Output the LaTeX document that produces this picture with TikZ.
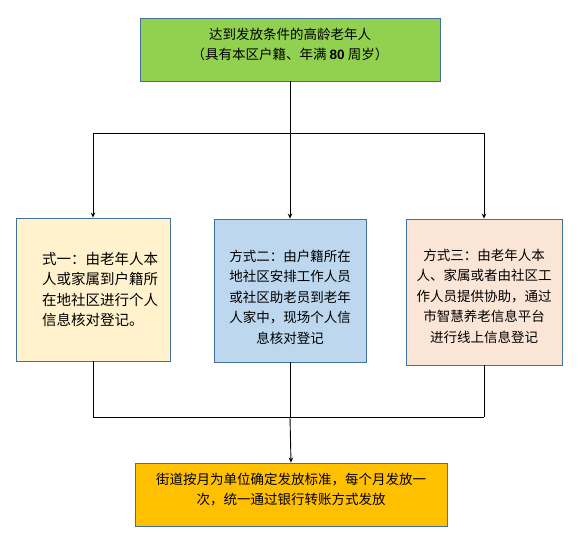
\documentclass[tikz,border=0pt]{standalone}
\usepackage{fontspec}
\setmainfont{Liberation Serif}
\newfontfamily\cjk{Noto Sans CJK SC}
\usetikzlibrary{arrows.meta}

\definecolor{boxblue}{HTML}{41719C}
\definecolor{topgreen}{HTML}{92D050}
\definecolor{waycream}{HTML}{FFF2CC}
\definecolor{wayblue}{HTML}{BDD7EE}
\definecolor{waypeach}{HTML}{FBE5D6}
\definecolor{payamber}{HTML}{FFC000}

\begin{document}
\begin{tikzpicture}[x=1pt, y=-1pt,
    font=\cjk\fontsize{13.5}{20.5}\selectfont,
    flowbox/.style={draw=boxblue, line width=0.9pt, inner sep=0pt, align=center},
    flowline/.style={line width=0.9pt},
    flowarrow/.style={line width=0.9pt, -{Stealth[length=5pt, width=4.5pt]}}]
    \useasboundingbox (0,0) rectangle (581,546);

    % Condition
    \node[flowbox, fill=topgreen, minimum width=300pt, minimum height=63pt,
          text depth=11pt] (cond) at (290,49.5)
        {达到发放条件的高龄老年人\\（具有本区户籍、年满 \textbf{\fontspec{Liberation Sans}80} 周岁）};

    % Three ways
    \node[flowbox, fill=waycream, minimum width=154pt, minimum height=143pt,
          align=left, font=\cjk\fontsize{14.5}{20.5}\selectfont] (way1) at (93,289.5)
        {\hspace*{14pt}式一：由老年人本\\\hspace*{14pt}人或家属到户籍所\\\hspace*{14pt}在地社区进行个人\\\hspace*{14pt}信息核对登记。};
    \node[flowbox, fill=wayblue, minimum width=152pt, minimum height=143pt,
          text height=107pt, text depth=2pt] (way2) at (290,290.5)
        {方式二：由户籍所在\\地社区安排工作人员\\或社区助老员到老年\\人家中，现场个人信\\息核对登记};
    \node[flowbox, fill=waypeach, minimum width=156pt, minimum height=146pt,
          text height=102pt, text depth=2pt] (way3) at (484,292)
        {方式三：由老年人本\\人、家属或者由社区工\\作人员提供协助，通过\\市智慧养老信息平台\\进行线上信息登记};

    % Payment
    \node[flowbox, fill=payamber, minimum width=312pt, minimum height=63pt,
          text depth=11pt] (pay) at (291,494.5)
        {街道按月为单位确定发放标准，每个月发放一\\次，统一通过银行转账方式发放};

    % Split
    \coordinate (split) at (290,133);
    \coordinate (join) at (290,417);
    \draw[flowline] (cond.south) -- (split);
    \draw[flowline] (split -| way1.north) -- (split -| way3.north);
    \foreach \w in {way1, way2, way3} {
        \draw[flowarrow] (split -| \w.north) -- (\w.north);
        \draw[flowline] (\w.south) -- (join -| \w.south);
    }

    % Join
    \draw[flowline] (join -| way1.south) -- (join -| way3.south);
    \draw[flowarrow] (join) -- (pay.north);
\end{tikzpicture}
\end{document}
